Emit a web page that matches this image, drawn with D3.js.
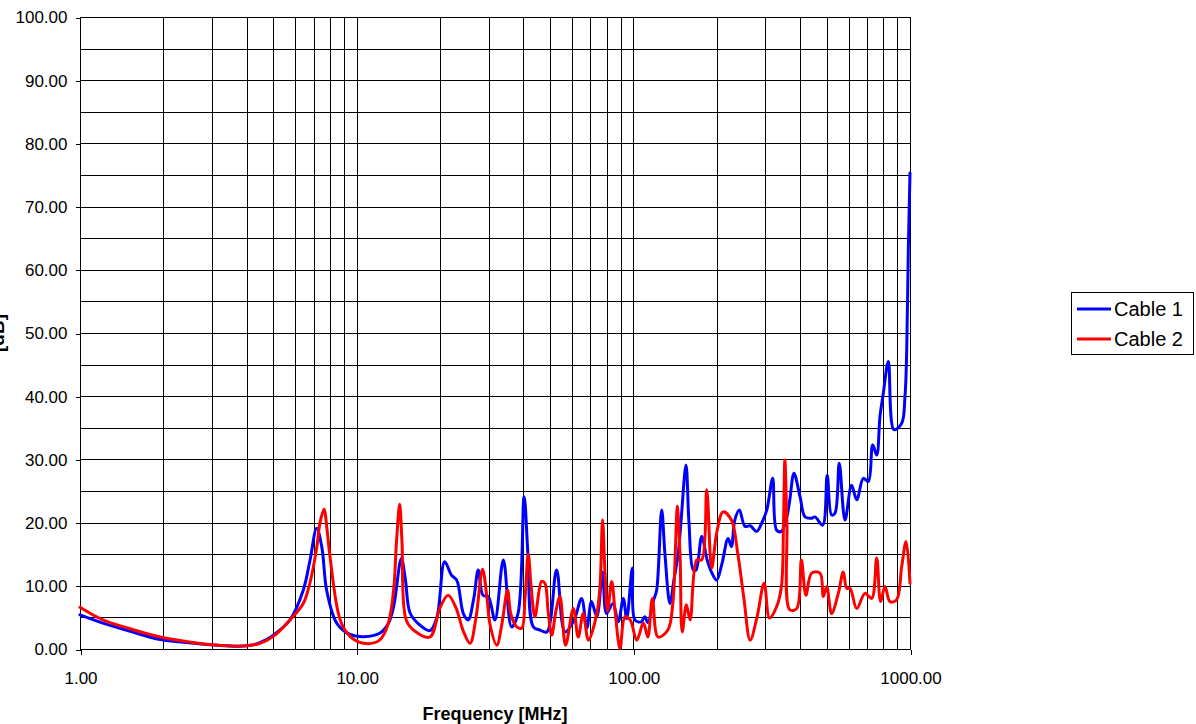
<!DOCTYPE html>
<html>
<head>
<meta charset="utf-8">
<script src="https://d3js.org/d3.v7.min.js"></script>
<style>
  html, body { margin: 0; padding: 0; background: #fff; }
  svg { display: block; font-family: "Liberation Sans", Arial, sans-serif; }
  .grid line { stroke: #000; stroke-width: 1; shape-rendering: crispEdges; }
  .tick-label { font-size: 17px; fill: #000; }
  .series { fill: none; stroke-width: 3; stroke-linejoin: round; stroke-linecap: round; }
</style>
</head>
<body>
<svg id="chart" width="1196" height="724"></svg>
<script>
// data (frequency in MHz, value)
const freqCable1 = [1.00, 1.21, 1.52, 1.95, 2.60, 3.39, 4.00, 4.47, 5.00, 5.74, 6.41, 6.78, 7.17, 7.49, 7.79, 8.47, 9.46,
  10.6, 12.1, 13.0, 13.6, 14.5, 15.0, 15.6, 16.9, 18.4, 19.5, 20.8, 22.0, 23.0, 24.3, 25.3, 26.5, 27.5, 28.6, 29.9,
  31.6, 33.9, 36.3, 38.3, 40.3, 41.6, 43.5, 46.0, 48.7, 52.8, 56.6, 61.0, 65.0, 67.9, 70.6, 73.8, 77.4, 80.0, 84.4,
  88.2, 92.0, 94.6, 99.2, 101.3, 106.8, 110.0, 112.8, 118.5, 121.4, 126.6, 130.1, 135.6, 140.3, 145.3, 148.6, 155,
  158.9, 164.7, 168.5, 176.7, 184.8, 192.4, 200, 209.1, 220, 226.2, 232.6, 241.6, 253.3, 264.4, 279, 290.9, 303.7,
  319, 329.6, 343, 359.2, 367.8, 380.7, 400.5, 417.5, 441, 453.6, 483.5, 502, 520.8, 535.8, 555, 582.1, 615, 642,
  678, 707, 733, 758, 779, 801, 835, 875, 933, 959, 973, 986, 1000];
const valCable1 = [5.4, 4.1, 2.8, 1.5, 0.9, 0.5, 0.5, 1.0, 2.2, 4.6, 9.3, 14.0, 19.1, 16.0, 9.3, 4.1, 2.3,
  1.95, 2.5, 4.0, 6.7, 14.3, 11.0, 5.7, 3.8, 2.9, 5.0, 13.8, 11.7, 10.9, 5.6, 4.6, 8.0, 12.5, 8.5, 8.3,
  4.6, 14.1, 3.5, 5.6, 24.1, 15.0, 3.5, 3.0, 2.7, 12.5, 2.7, 4.5, 8.0, 3.3, 7.5, 5.1, 12.2, 5.6, 7.2,
  4.3, 8.0, 4.8, 12.8, 4.6, 4.3, 5.1, 4.2, 7.8, 9.3, 22.0, 15.0, 7.2, 11.0, 15.1, 20.0, 29.1,
  20.0, 12.5, 12.5, 17.8, 14.1, 12.0, 10.9, 13.5, 17.5, 16.2, 20.4, 22.0, 19.4, 19.5, 18.6, 19.9, 22.0,
  27.0, 18.8, 18.6, 21.0, 23.6, 27.8, 24.1, 20.9, 20.7, 20.9, 19.6, 27.5, 21.2, 21.5, 29.4, 20.4, 25.9, 23.6,
  27.0, 26.5, 32.3, 30.7, 36.8, 40.5, 45.5, 34.7, 35.7, 39.9, 47.3, 63.1, 75.3];

const freqCable2 = [1.00, 1.21, 1.52, 1.95, 2.60, 3.39, 4.00, 4.47, 5.00, 5.74, 6.41, 6.78, 7.17, 7.37, 7.62, 7.81, 8.01,
  8.72, 9.46, 10.6, 12.1, 13.0, 13.6, 13.93, 14.3, 14.58, 15.1, 16.25, 18.4, 20.0, 21.4, 22.86, 24.3, 25.7, 27.0,
  28.5, 29.6, 30.3, 32.1, 33.5, 35.1, 36.1, 37.9, 39.5, 40.6, 41.7, 42.7, 44.1, 46.6, 47.9, 49.2, 50.7, 52.5, 54.3,
  56.9, 60.7, 63.2, 65.9, 68.8, 73.8, 75.8, 77.4, 79.0, 80.7, 83.5, 85.9, 89.5, 93.3, 97.4, 102.9, 108.7, 112.8,
  117.2, 122.8, 133.3, 138.9, 142, 144.2, 147.5, 150.2, 155.5, 160.4, 169.6, 176.7, 184.2, 191.9, 200, 211, 226.2,
  238.5, 251, 264.4, 279.8, 297, 310.7, 329.6, 343, 349, 353, 359, 367.8, 389.6, 405, 420.5, 441, 473, 486, 500,
  520.8, 550.6, 574, 590.5, 607, 642, 687.6, 727, 758, 783, 812, 847, 895, 933, 968, 1000];
const valCable2 = [6.6, 4.6, 3.2, 1.9, 1.0, 0.5, 0.5, 0.9, 2.0, 4.6, 7.2, 10.5, 16.0, 20.0, 22.1, 19.0, 14.6,
  4.6, 2.0, 0.9, 1.4, 4.0, 9.3, 17.0, 22.9, 17.0, 4.6, 2.8, 1.9, 6.5, 8.5, 6.5, 2.8, 0.9, 5.0,
  12.6, 8.0, 4.0, 0.6, 4.0, 9.3, 5.5, 3.5, 3.3, 8.0, 15.0, 10.0, 5.1, 10.7, 10.4, 6.0, 2.2, 6.0, 8.3,
  0.6, 6.4, 1.9, 5.6, 1.4, 5.6, 10.0, 20.4, 12.0, 6.0, 10.7, 6.0, 0.1, 5.1, 4.6, 1.4, 4.1, 1.9,
  8.0, 1.9, 3.0, 7.2, 16.0, 22.6, 15.0, 2.7, 7.0, 4.6, 14.1, 14.1, 25.2, 12.8, 18.3, 21.7, 20.4,
  15.1, 8.0, 1.4, 5.0, 10.4, 4.9, 6.7, 9.9, 20.0, 29.9, 20.0, 6.2, 6.4, 14.1, 8.5, 12.0, 12.0, 8.3, 9.9,
  5.6, 8.8, 12.2, 9.6, 9.6, 6.4, 8.8, 8.0, 14.4, 7.5, 9.9, 7.5, 7.8, 13.0, 17.0, 10.4];

const seriesNames = ["Cable 1", "Cable 2"];
const seriesColors = ["#0000ff", "#ff0000"];
const yTicks = d3.range(0, 101, 10);
const xTicks = [1, 10, 100, 1000];
const xTitle = "Frequency [MHz]";
const yTitle = "[dB]";

const svg = d3.select("#chart");
const x = d3.scaleLog().domain([1, 1000]).range([80, 910]);
const y = d3.scaleLinear().domain([0, 100]).range([649, 17]);

// gridlines: every 5 units in y, every log step in x
const grid = svg.append("g").attr("class", "grid");
grid.selectAll("line.h").data(d3.range(0, 101, 5))
  .join("line").attr("class", "h")
  .attr("x1", x(1)).attr("x2", x(1000))
  .attr("y1", d => Math.round(y(d)) + 0.5).attr("y2", d => Math.round(y(d)) + 0.5);
const minor = [];
[1, 10, 100].forEach(dec => d3.range(1, 10).forEach(k => minor.push(k * dec)));
minor.push(1000);
grid.selectAll("line.v").data(minor)
  .join("line").attr("class", "v")
  .attr("y1", y(0)).attr("y2", y(100))
  .attr("x1", d => Math.round(x(d)) + 0.5).attr("x2", d => Math.round(x(d)) + 0.5);

// axes
const yAxis = d3.axisLeft(y).tickValues(yTicks).tickSize(5).tickPadding(8).tickFormat(d3.format(".2f"));
const gy = svg.append("g").attr("transform", `translate(${x(1) + 0.5},0.5)`).call(yAxis);
const xAxis = d3.axisBottom(x).tickValues(xTicks).tickSize(5).tickPadding(17).tickFormat(d3.format(".2f"));
const gx = svg.append("g").attr("transform", `translate(0.5,${y(0) + 0.5})`).call(xAxis);
[gx, gy].forEach(g => {
  g.selectAll("path.domain").attr("stroke", "#000").attr("shape-rendering", "crispEdges");
  g.selectAll(".tick line").attr("stroke", "#000").attr("shape-rendering", "crispEdges");
  g.selectAll(".tick text").attr("class", "tick-label").attr("font-size", null).attr("font-family", null);
});
gy.selectAll("path.domain").attr("d", `M0,${y(0)}V${y(100)}`);
gx.selectAll("path.domain").attr("d", `M${x(1)},0H${x(1000)}`);

// series
const line = d3.line().curve(d3.curveCatmullRom.alpha(0.5)).x(d => x(d[0])).y(d => y(d[1]));
const series = [d3.zip(freqCable1, valCable1), d3.zip(freqCable2, valCable2)];
svg.append("g").selectAll("path").data(series)
  .join("path").attr("class", "series")
  .attr("stroke", (d, i) => seriesColors[i])
  .attr("d", line);

// titles
svg.append("text").attr("x", (x(1) + x(1000)) / 2).attr("y", 720)
  .attr("text-anchor", "middle").attr("font-size", 18).attr("font-weight", "bold").text(xTitle);
svg.append("text").attr("transform", `translate(4,${(y(0) + y(100)) / 2}) rotate(-90)`)
  .attr("text-anchor", "middle").attr("font-size", 19).attr("font-weight", "bold").text(yTitle);

// legend
const lg = svg.append("g");
lg.append("rect").attr("x", 1071.5).attr("y", 292.5).attr("width", 122).attr("height", 62)
  .attr("fill", "#fff").attr("stroke", "#000");
const items = lg.selectAll("g.item").data(seriesNames).join("g").attr("class", "item")
  .attr("transform", (d, i) => `translate(0,${309 + i * 30})`);
items.append("line").attr("x1", 1077).attr("x2", 1111).attr("y1", 0).attr("y2", 0)
  .attr("stroke", (d, i) => seriesColors[i]).attr("stroke-width", 3);
items.append("text").attr("x", 1114).attr("y", 7).attr("font-size", 20).text(d => d);
</script>
</body>
</html>
